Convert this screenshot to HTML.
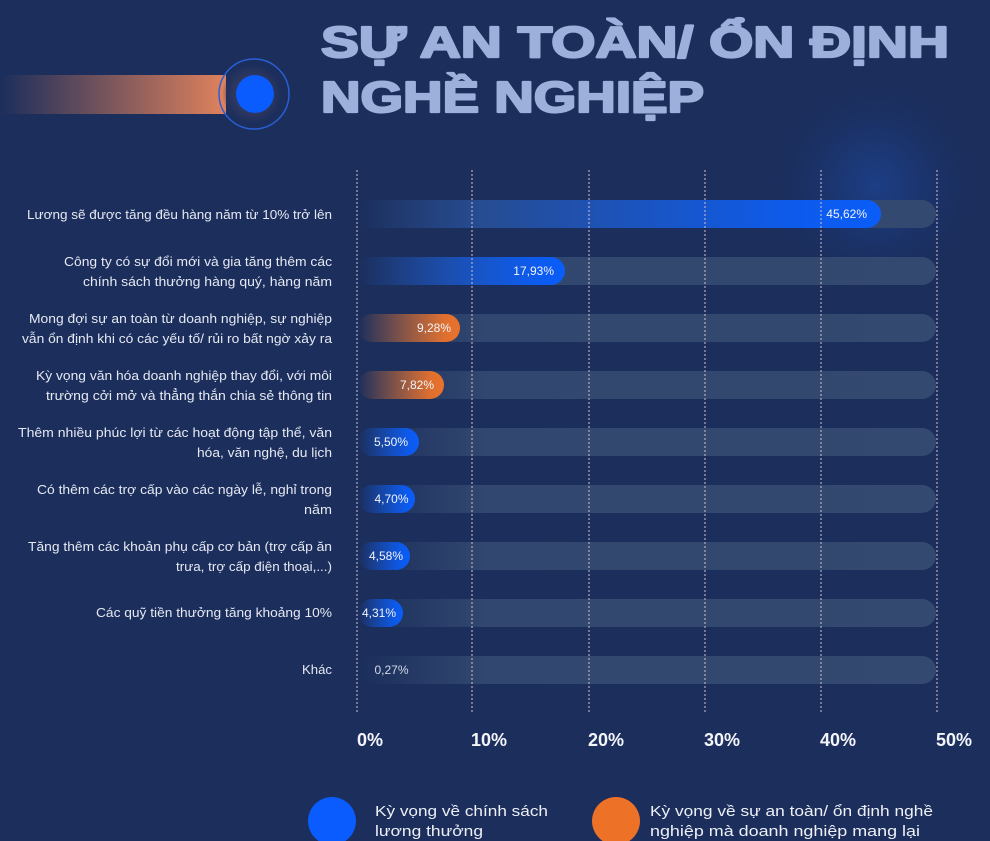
<!DOCTYPE html>
<html>
<head>
<meta charset="utf-8">
<style>
html,body{margin:0;padding:0;background:#1b2e5c;}
svg{display:block;}
text{font-family:"Liberation Sans",sans-serif;}
</style>
</head>
<body>
<svg width="990" height="841" viewBox="0 0 990 841" xmlns="http://www.w3.org/2000/svg">
<defs>
  <radialGradient id="glow" cx="875" cy="185" r="110" gradientUnits="userSpaceOnUse">
    <stop offset="0" stop-color="#1d4fb0" stop-opacity="0.5"/>
    <stop offset="0.5" stop-color="#1b46a0" stop-opacity="0.22"/>
    <stop offset="1" stop-color="#1b2e5c" stop-opacity="0"/>
  </radialGradient>
  <linearGradient id="hdr" x1="0" y1="0" x2="1" y2="0">
    <stop offset="0" stop-color="#e07f5a" stop-opacity="0"/>
    <stop offset="1" stop-color="#e0825d" stop-opacity="1"/>
  </linearGradient>
  <radialGradient id="halo" cx="0.5" cy="0.5" r="0.5">
    <stop offset="0.6" stop-color="#2f3860" stop-opacity="1"/>
    <stop offset="1" stop-color="#2f3860" stop-opacity="0"/>
  </radialGradient>
  <linearGradient id="track" x1="0" y1="0" x2="1" y2="0">
    <stop offset="0" stop-color="#31476f" stop-opacity="0"/>
    <stop offset="0.22" stop-color="#31476f" stop-opacity="1"/>
    <stop offset="1" stop-color="#34496f" stop-opacity="1"/>
  </linearGradient>
  <linearGradient id="blue" x1="0" y1="0" x2="1" y2="0">
    <stop offset="0" stop-color="#0b5cf5" stop-opacity="0"/>
    <stop offset="0.85" stop-color="#0b5cf5" stop-opacity="0.95"/>
    <stop offset="1" stop-color="#0a5df8" stop-opacity="1"/>
  </linearGradient>
  <linearGradient id="orange" x1="0" y1="0" x2="1" y2="0">
    <stop offset="0" stop-color="#e8722c" stop-opacity="0"/>
    <stop offset="0.85" stop-color="#e8722c" stop-opacity="0.95"/>
    <stop offset="1" stop-color="#ea722a" stop-opacity="1"/>
  </linearGradient>
</defs>

<rect x="0" y="0" width="990" height="841" fill="#1b2e5c"/>
<rect x="740" y="60" width="250" height="260" fill="url(#glow)"/>

<!-- header decoration -->
<rect x="0" y="75" width="226" height="39" fill="url(#hdr)"/>
<circle cx="252" cy="94" r="30" fill="url(#halo)"/>
<circle cx="254" cy="94" r="35" fill="none" stroke="#2a5fd6" stroke-width="1.5"/>
<circle cx="255" cy="94" r="19" fill="#0a5cff"/>

<!-- title -->
<g fill="#9db0dc" stroke="#9db0dc" stroke-width="2.2" stroke-linejoin="round">
<text x="321" y="57" font-size="44" font-weight="bold" textLength="628" lengthAdjust="spacingAndGlyphs">SỰ AN TOÀN/ ỔN ĐỊNH</text>
<text x="321" y="112" font-size="44" font-weight="bold" textLength="383" lengthAdjust="spacingAndGlyphs">NGHỀ NGHIỆP</text>
</g>

<!-- tracks -->
<g fill="url(#track)">
  <rect x="358" y="200" width="578" height="28" rx="14"/>
  <rect x="358" y="257" width="578" height="28" rx="14"/>
  <rect x="358" y="314" width="578" height="28" rx="14"/>
  <rect x="358" y="371" width="578" height="28" rx="14"/>
  <rect x="358" y="428" width="578" height="28" rx="14"/>
  <rect x="358" y="485" width="578" height="28" rx="14"/>
  <rect x="358" y="542" width="578" height="28" rx="14"/>
  <rect x="358" y="599" width="578" height="28" rx="14"/>
  <rect x="358" y="656" width="578" height="28" rx="14"/>
</g>

<!-- bars -->
<rect x="358" y="200" width="523" height="28" rx="14" fill="url(#blue)"/>
<rect x="358" y="257" width="207" height="28" rx="14" fill="url(#blue)"/>
<rect x="358" y="314" width="102" height="28" rx="14" fill="url(#orange)"/>
<rect x="358" y="371" width="86" height="28" rx="14" fill="url(#orange)"/>
<rect x="358" y="428" width="61" height="28" rx="14" fill="url(#blue)"/>
<rect x="358" y="485" width="57" height="28" rx="14" fill="url(#blue)"/>
<rect x="358" y="542" width="52" height="28" rx="14" fill="url(#blue)"/>
<rect x="358" y="599" width="45" height="28" rx="14" fill="url(#blue)"/>

<!-- gridlines -->
<g stroke="#c4b6c6" stroke-width="1.3" stroke-dasharray="2,2" opacity="0.85">
  <line x1="357" y1="170" x2="357" y2="713"/>
  <line x1="472" y1="170" x2="472" y2="713"/>
  <line x1="589" y1="170" x2="589" y2="713"/>
  <line x1="705" y1="170" x2="705" y2="713"/>
  <line x1="821" y1="170" x2="821" y2="713"/>
  <line x1="937" y1="170" x2="937" y2="713"/>
</g>

<!-- value labels -->
<g font-size="12" fill="#f2f4fa" text-anchor="end">
  <text x="867" y="218">45,62%</text>
  <text x="554" y="275">17,93%</text>
  <text x="451" y="332">9,28%</text>
  <text x="434" y="389">7,82%</text>
  <text x="408" y="446">5,50%</text>
  <text x="408.5" y="503">4,70%</text>
  <text x="403" y="560">4,58%</text>
  <text x="396" y="617">4,31%</text>
  <text x="408.5" y="674" fill="#d2d8e8">0,27%</text>
</g>

<!-- category labels -->
<g font-size="13" fill="#e6e9f2" text-anchor="end">
  <text x="332" y="219" textLength="305" lengthAdjust="spacingAndGlyphs">Lương sẽ được tăng đều hàng năm từ 10% trở lên</text>
  <text x="332" y="266" textLength="268" lengthAdjust="spacingAndGlyphs">Công ty có sự đổi mới và gia tăng thêm các</text>
  <text x="332" y="286" textLength="249" lengthAdjust="spacingAndGlyphs">chính sách thưởng hàng quý, hàng năm</text>
  <text x="332" y="323" textLength="303" lengthAdjust="spacingAndGlyphs">Mong đợi sự an toàn từ doanh nghiệp, sự nghiệp</text>
  <text x="332" y="343" textLength="310" lengthAdjust="spacingAndGlyphs">vẫn ổn định khi có các yếu tố/ rủi ro bất ngờ xảy ra</text>
  <text x="332" y="380" textLength="296" lengthAdjust="spacingAndGlyphs">Kỳ vọng văn hóa doanh nghiệp thay đổi, với môi</text>
  <text x="332" y="400" textLength="286" lengthAdjust="spacingAndGlyphs">trường cởi mở và thẳng thắn chia sẻ thông tin</text>
  <text x="332" y="437" textLength="314" lengthAdjust="spacingAndGlyphs">Thêm nhiều phúc lợi từ các hoạt động tập thể, văn</text>
  <text x="332" y="457" textLength="135" lengthAdjust="spacingAndGlyphs">hóa, văn nghệ, du lịch</text>
  <text x="332" y="494" textLength="295" lengthAdjust="spacingAndGlyphs">Có thêm các trợ cấp vào các ngày lễ, nghỉ trong</text>
  <text x="332" y="514" textLength="28" lengthAdjust="spacingAndGlyphs">năm</text>
  <text x="332" y="551" textLength="304" lengthAdjust="spacingAndGlyphs">Tăng thêm các khoản phụ cấp cơ bản (trợ cấp ăn</text>
  <text x="332" y="571" textLength="156" lengthAdjust="spacingAndGlyphs">trưa, trợ cấp điện thoại,...)</text>
  <text x="332" y="617" textLength="236" lengthAdjust="spacingAndGlyphs">Các quỹ tiền thưởng tăng khoảng 10%</text>
  <text x="332" y="674" textLength="30" lengthAdjust="spacingAndGlyphs">Khác</text>
</g>

<!-- axis labels -->
<g font-size="18" font-weight="bold" fill="#f4f5fa">
  <text x="357" y="746">0%</text>
  <text x="471" y="746">10%</text>
  <text x="588" y="746">20%</text>
  <text x="704" y="746">30%</text>
  <text x="820" y="746">40%</text>
  <text x="936" y="746">50%</text>
</g>

<!-- legend -->
<circle cx="332" cy="821" r="24" fill="#0a5cff"/>
<circle cx="616" cy="821" r="24" fill="#ed7127"/>
<g font-size="15" fill="#eef0f6">
  <text x="375" y="816" textLength="173" lengthAdjust="spacingAndGlyphs">Kỳ vọng về chính sách</text>
  <text x="375" y="836" textLength="108" lengthAdjust="spacingAndGlyphs">lương thưởng</text>
  <text x="650" y="816" textLength="283" lengthAdjust="spacingAndGlyphs">Kỳ vọng về sự an toàn/ ổn định nghề</text>
  <text x="650" y="836" textLength="270" lengthAdjust="spacingAndGlyphs">nghiệp mà doanh nghiệp mang lại</text>
</g>
</svg>
</body>
</html>
